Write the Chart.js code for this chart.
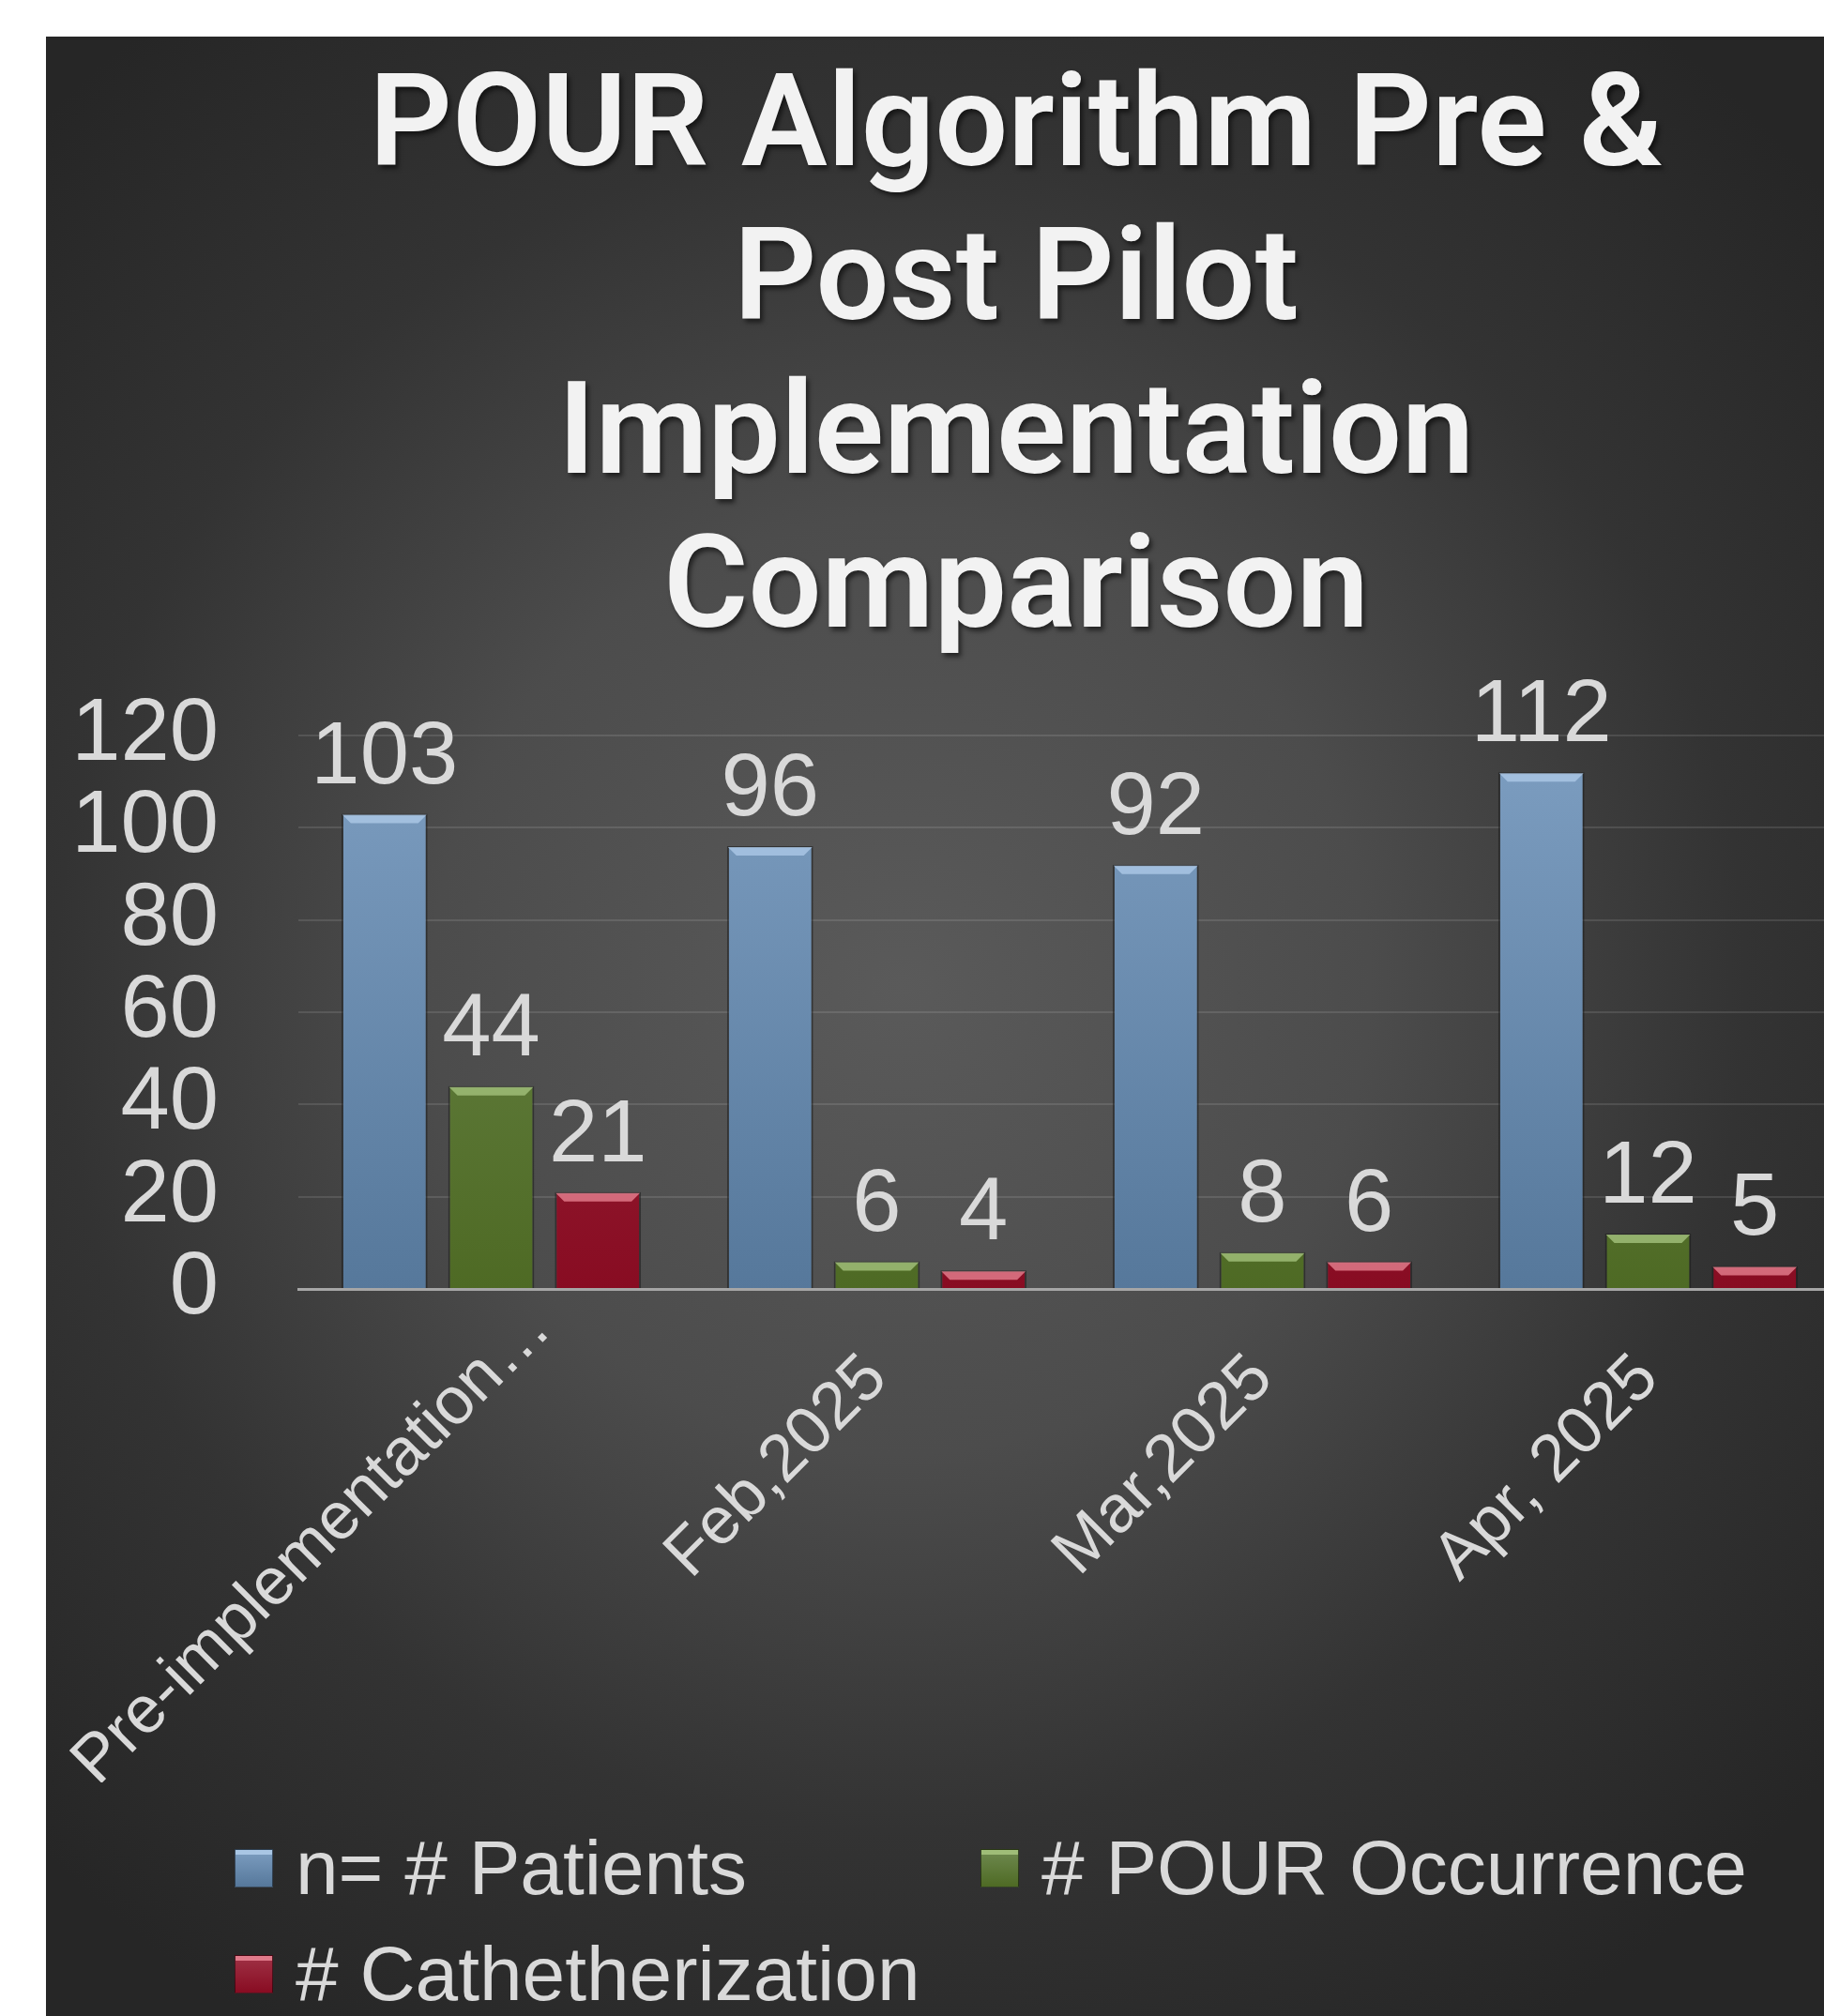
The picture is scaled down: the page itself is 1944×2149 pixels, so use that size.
<!DOCTYPE html>
<html>
<head>
<meta charset="utf-8">
<script src="https://cdn.jsdelivr.net/npm/chart.js@4.4.1/dist/chart.umd.min.js"></script>
<style>
  html, body { margin: 0; padding: 0; width: 1944px; height: 2149px; overflow: hidden; background: #fff; }
  #panel {
    position: absolute; left: 49px; top: 39px; right: 0; bottom: 0;
    background: radial-gradient(circle at 911px 1011px, #5a5a5a 0px, #4c4c4c 500px, #333333 900px, #262626 1300px);
  }
  #title {
    position: absolute; left: 0; top: 47px; width: 2166px; text-align: center;
    font: 600 138px Roboto, "Liberation Sans", sans-serif; line-height: 164px;
    color: #f2f2f2; text-shadow: 3px 4px 5px rgba(0,0,0,0.55);
  }
  #chart { position: absolute; left: 0; top: 0; }
  .item { position: absolute; height: 100px; display: flex; align-items: center; white-space: nowrap;
    font: 82px "Liberation Sans", Arial, sans-serif; color: #d9d9d9; }
  .item span.box { width: 41px; height: 41px; margin-right: 24px; box-sizing: border-box;
    border: 1px solid rgba(0,0,0,0.5); }
</style>
</head>
<body>
<div id="panel"></div>
<div id="title">POUR Algorithm Pre &amp;<br>Post Pilot<br>Implementation<br>Comparison</div>
<canvas id="chart" width="1980" height="1900"></canvas>
<div id="legend"></div>
<script>
// data
const categories = ['Pre-implementation…', 'Feb,2025', 'Mar,2025', 'Apr, 2025'];
const patients = [103, 96, 92, 112];
const pourOccurrence = [44, 6, 8, 12];
const catheterization = [21, 4, 6, 5];
const seriesNames = ['n= # Patients', '# POUR Occurrence', '# Cathetherization'];
const yTicks = [0, 20, 40, 60, 80, 100, 120];

// top, bottom, bevel colours per series
const blue = ['#7d9ec1', '#56789b', '#a9c6e4'];
const green = ['#6f8a50', '#4e6a24', '#9fbd78'];
const red = ['#a03246', '#880c22', '#e07a8a'];

const labelFont = '71px "Liberation Sans", Arial, sans-serif';

function barFill(col) {
  return function (ctx) {
    const area = ctx.chart.chartArea;
    if (!area) return col[1];
    const g = ctx.chart.ctx.createLinearGradient(0, area.top, 0, area.bottom);
    g.addColorStop(0, col[0]);
    g.addColorStop(1, col[1]);
    return g;
  };
}

function makeSet(label, data, col) {
  return {
    label: label,
    data: data,
    backgroundColor: barFill(col),
    borderColor: 'rgba(25,25,25,0.55)',
    borderWidth: 2,
    bevelColor: col[2],
    legendTop: col[0],
    legendBottom: col[1],
    categoryPercentage: 0.83,
    barPercentage: 0.807
  };
}

// light strip on top of each bar
const bevel = {
  id: 'bevel',
  afterDatasetsDraw(chart) {
    const c = chart.ctx;
    chart.data.datasets.forEach((ds, i) => {
      chart.getDatasetMeta(i).data.forEach(bar => {
        const p = bar.getProps(['x', 'y', 'base', 'width'], true);
        const l = p.x - p.width / 2, r = p.x + p.width / 2;
        const b = Math.min(9, (p.base - p.y) / 2);
        c.save();
        c.fillStyle = ds.bevelColor;
        c.globalAlpha = 0.85;
        c.beginPath();
        c.moveTo(l + 1, p.y + 1);
        c.lineTo(r - 1, p.y + 1);
        c.lineTo(r - 1 - b, p.y + 1 + b);
        c.lineTo(l + 1 + b, p.y + 1 + b);
        c.closePath();
        c.fill();
        c.restore();
      });
    });
  }
};

const valueLabels = {
  id: 'valueLabels',
  afterDatasetsDraw(chart) {
    const c = chart.ctx;
    c.save();
    c.font = '94px "Liberation Sans", Arial, sans-serif';
    c.fillStyle = '#d9d9d9';
    c.textAlign = 'center';
    c.textBaseline = 'alphabetic';
    chart.data.datasets.forEach((ds, i) => {
      chart.getDatasetMeta(i).data.forEach((bar, j) => {
        c.fillText(ds.data[j], bar.x, bar.y - 33);
      });
    });
    c.restore();
  }
};

// 45° category labels, end of text at the tick; a label that would run
// past the bottom of its band slides up along its own direction
const slantLabels = {
  id: 'slantLabels',
  afterDraw(chart) {
    const scale = chart.scales.x;
    const c = chart.ctx;
    const s = Math.SQRT1_2;
    const lh = 85;
    const limit = 1908;
    c.save();
    c.font = labelFont;
    c.fillStyle = '#d9d9d9';
    c.textAlign = 'right';
    c.textBaseline = 'middle';
    categories.forEach((txt, i) => {
      let ex = scale.getPixelForTick(i);
      let ey = scale.top + 54 + (lh / 2) * s;
      const w = c.measureText(txt).width;
      const low = ey + (w + 24) * s;
      if (low > limit) {
        const d = low - limit;
        ex += d;
        ey -= d;
      }
      c.save();
      c.translate(ex, ey);
      c.rotate(-Math.PI / 4);
      c.fillText(txt, 0, 0);
      c.restore();
    });
    c.restore();
  }
};

const datasets = [
  makeSet(seriesNames[0], patients, blue),
  makeSet(seriesNames[1], pourOccurrence, green),
  makeSet(seriesNames[2], catheterization, red)
];

const chart = new Chart(document.getElementById('chart'), {
  type: 'bar',
  data: { labels: categories, datasets: datasets },
  options: {
    responsive: false,
    animation: false,
    devicePixelRatio: 1,
    layout: { padding: { left: 76, top: 784, right: 18, bottom: 0 } },
    plugins: {
      legend: { display: false },
      title: { display: false },
      tooltip: { enabled: false }
    },
    scales: {
      x: {
        grid: { display: false },
        border: { color: '#a6a6a6', width: 3 },
        ticks: { display: false },
        afterFit(scale) {
          scale.height = 526;
          scale.paddingLeft = 0;
          scale.paddingRight = 0;
        }
      },
      y: {
        min: 0,
        max: 120,
        afterBuildTicks(scale) {
          scale.ticks = yTicks.map(v => ({ value: v }));
        },
        grid: { color: 'rgba(255,255,255,0.11)', lineWidth: 2, drawTicks: false },
        border: { display: false },
        ticks: {
          color: '#d9d9d9',
          font: { family: '"Liberation Sans", Arial, sans-serif', size: 94 },
          padding: 85,
          autoSkip: false
        },
        afterFit(scale) {
          scale.width = 242;
        }
      }
    }
  },
  plugins: [bevel, valueLabels, slantLabels]
});

// legend: two columns, filled row by row
const legendCols = [250, 1045];
const legendRows = [1991, 2104];
const legend = document.getElementById('legend');
datasets.forEach((ds, i) => {
  const item = document.createElement('div');
  item.className = 'item';
  item.style.left = legendCols[i % 2] + 'px';
  item.style.top = (legendRows[Math.floor(i / 2)] - 50) + 'px';
  const box = document.createElement('span');
  box.className = 'box';
  box.style.background = 'linear-gradient(' + ds.legendTop + ', ' + ds.legendBottom + ')';
  box.style.boxShadow = 'inset 0 5px 0 ' + ds.bevelColor;
  item.appendChild(box);
  item.appendChild(document.createTextNode(ds.label));
  legend.appendChild(item);
});
</script>
</body>
</html>
